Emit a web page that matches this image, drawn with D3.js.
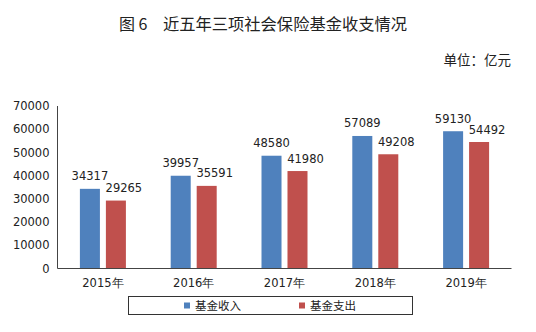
<!DOCTYPE html>
<html>
<head>
<meta charset="utf-8">
<script src="https://cdn.jsdelivr.net/npm/d3@7/dist/d3.min.js"></script>
<style>
  html, body { margin: 0; padding: 0; background: #fff; }
  svg { display: block; }
</style>
</head>
<body>
<svg id="chart" width="536" height="332"></svg>
<script>
// Fund income and expenditure of the three social insurance schemes, 2015–2019 (100 million yuan)
const years = ["2015年", "2016年", "2017年", "2018年", "2019年"];
const income = [34317, 39957, 48580, 57089, 59130];
const expense = [29265, 35591, 41980, 49208, 54492];
const seriesNames = ["基金收入", "基金支出"];
const seriesColors = ["#4F81BD", "#C0504D"];
const yTicks = [0, 10000, 20000, 30000, 40000, 50000, 60000, 70000];

const svg = d3.select("#chart");
const numFont = "'DejaVu Sans', Verdana, sans-serif";
const cjkFont = "'Noto Sans CJK SC', sans-serif";

const plotLeft = 57.5, plotRight = 511.5, plotBottom = 268.5, plotTop = 106;

const x = d3.scaleBand().domain(years).range([plotLeft, plotRight]).padding(0);
const series = d3.scaleBand().domain([0, 1]).range([-23, 23]).paddingInner(0.23).paddingOuter(0);
const y = d3.scaleLinear().domain([0, 70000]).range([plotBottom, plotTop]);
// value labels of the second series sit a little to the right so they clear the first
const labelShift = [0, 8];

// Title and unit note
svg.append("text")
  .attr("x", 119).attr("y", 30)
  .attr("font-family", cjkFont).attr("font-size", 16).attr("fill", "#222")
  .text("图 6");
svg.append("text")
  .attr("x", 163).attr("y", 30)
  .attr("font-family", cjkFont).attr("font-size", 16).attr("fill", "#222")
  .attr("textLength", 244).attr("lengthAdjust", "spacingAndGlyphs")
  .text("近五年三项社会保险基金收支情况");
svg.append("text")
  .attr("x", 511).attr("y", 65).attr("text-anchor", "end")
  .attr("font-family", cjkFont).attr("font-size", 13.5).attr("fill", "#222")
  .text("单位：亿元");

// Y axis
const yAxis = svg.append("g")
  .attr("transform", `translate(${plotLeft},0)`)
  .call(d3.axisLeft(y).tickValues(yTicks).tickSize(0).tickPadding(8).tickFormat(d3.format("d")));
yAxis.select(".domain").attr("stroke", "#444").attr("d", `M0,${plotTop}V${plotBottom}`);
yAxis.selectAll("text")
  .attr("font-family", numFont).attr("font-size", 11.5).attr("fill", "#222");

// Bars
const data = years.map((yr, i) => ({ year: yr, values: [income[i], expense[i]] }));
const groups = svg.append("g").selectAll("g").data(data).join("g")
  .attr("transform", d => `translate(${x(d.year) + x.bandwidth() / 2},0)`);

groups.selectAll("rect").data(d => d.values.map((v, k) => ({ v, k }))).join("rect")
  .attr("x", d => series(d.k))
  .attr("width", series.bandwidth())
  .attr("y", d => y(d.v))
  .attr("height", d => y(0) - y(d.v))
  .attr("fill", d => seriesColors[d.k]);

groups.selectAll("text.val").data(d => d.values.map((v, k) => ({ v, k }))).join("text")
  .attr("class", "val")
  .attr("x", d => series(d.k) + series.bandwidth() / 2 + labelShift[d.k])
  .attr("y", d => y(d.v) - 8.5)
  .attr("text-anchor", "middle")
  .attr("font-family", numFont).attr("font-size", 11.5).attr("fill", "#222")
  .text(d => d.v);

// X axis
const xAxis = svg.append("g")
  .attr("transform", `translate(0,${plotBottom})`)
  .call(d3.axisBottom(x).tickSize(0).tickPadding(8));
xAxis.select(".domain").attr("stroke", "#444").attr("d", `M${plotLeft},0H${plotRight}`);
xAxis.selectAll("text")
  .attr("font-family", numFont).attr("font-size", 11.5).attr("fill", "#222")
  .attr("dy", "0.9em");

// Legend
const legend = svg.append("g");
legend.append("rect")
  .attr("x", 128.5).attr("y", 296.5).attr("width", 284).attr("height", 18)
  .attr("fill", "#fff").attr("stroke", "#333").attr("stroke-width", 1);
const legendX = [184, 299];
seriesNames.forEach((name, k) => {
  legend.append("rect")
    .attr("x", legendX[k]).attr("y", 302.5).attr("width", 6).attr("height", 6)
    .attr("fill", seriesColors[k]);
  legend.append("text")
    .attr("x", legendX[k] + 11).attr("y", 310)
    .attr("font-family", cjkFont).attr("font-size", 11.5).attr("fill", "#222")
    .text(name);
});
</script>
</body>
</html>
